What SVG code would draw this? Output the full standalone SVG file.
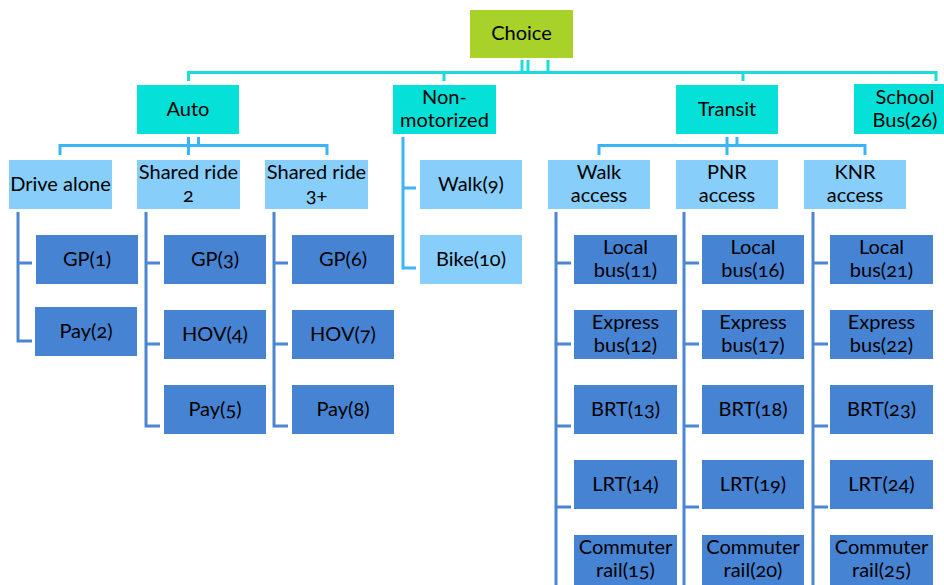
<svg xmlns="http://www.w3.org/2000/svg" width="944" height="585" viewBox="0 0 944 585">
<style>
text{font-family:Lato,"Open Sans","Liberation Sans",sans-serif;font-size:20px;fill:#000;text-anchor:middle;font-variant-numeric:oldstyle-nums}
.root{fill:#a8d12a}
.l1{fill:#05e0d8}
.l2{fill:#87cefa}
.leaf{fill:#4683d3}
.c0{stroke:#1adcdc;stroke-width:3;fill:none}
.c1{stroke:#3cb4f8;stroke-width:3;fill:none}
.c2{stroke:#4a86d2;stroke-width:3;fill:none}
</style>
<rect width="944" height="585" fill="#fff"/>
<g id="connectors">
<path class="c0" d="M522 60V73M528 60V73M548 60V73M187 72.5H937.5M188.5 72V81M444 72V81M743 72V81M936 72V81"/>
<path class="c1" d="M188.5 137V155M198.5 137V146M60 145.5H327.5M60 144V155M327 144V155"/>
<path class="c1" d="M727 137V155M737 137V146M599 145.5H865.5M599 144V155M865 144V155"/>
<path class="c1" d="M403 137V268H416M403 188H416"/>
<path class="c2" d="M18 212V341H32M18 263H32"/>
<path class="c2" d="M146 212V426H160M146 263H160M146 344H160"/>
<path class="c2" d="M274 212V426H288M274 263H288M274 344H288"/>
<path class="c2" d="M556 212V585M556 263H571M556 344H571M556 426H571M556 507H571"/>
<path class="c2" d="M684 212V585M684 263H699M684 344H699M684 426H699M684 507H699"/>
<path class="c2" d="M813 212V585M813 263H828M813 344H828M813 426H828M813 507H828"/>
</g>
<g id="choice"><rect class="root" x="470" y="10" width="103" height="48"/><text x="521.5" y="40">Choice</text></g>
<g id="auto"><rect class="l1" x="137" y="85" width="102" height="49"/><text x="188" y="116">Auto</text></g>
<g id="nonmotorized"><rect class="l1" x="393" y="85" width="103" height="49"/><text x="444.5" y="104">Non-</text><text x="444.5" y="127">motorized</text></g>
<g id="transit"><rect class="l1" x="676" y="85" width="102" height="49"/><text x="727" y="116">Transit</text></g>
<g id="schoolbus"><rect class="l1" x="854" y="84" width="90" height="50"/><text x="905" y="104">School</text><text x="905" y="127">Bus(26)</text></g>

<g id="drivealone"><rect class="l2" x="9" y="160" width="103" height="49"/><text x="60.5" y="191">Drive alone</text></g>
<g id="shared2"><rect class="l2" x="137" y="160" width="103" height="49"/><text x="188.5" y="179">Shared ride</text><text x="188.5" y="202">2</text></g>
<g id="shared3"><rect class="l2" x="265" y="160" width="103" height="49"/><text x="316.5" y="179">Shared ride</text><text x="316.5" y="202">3+</text></g>
<g id="walk9"><rect class="l2" x="420" y="160" width="102" height="49"/><text x="471" y="191">Walk(9)</text></g>
<g id="bike10"><rect class="l2" x="420" y="235" width="102" height="49"/><text x="471" y="266">Bike(10)</text></g>
<g id="walkaccess"><rect class="l2" x="548" y="160" width="102" height="49"/><text x="599" y="179">Walk</text><text x="599" y="202">access</text></g>
<g id="pnraccess"><rect class="l2" x="676" y="160" width="102" height="49"/><text x="727" y="179">PNR</text><text x="727" y="202">access</text></g>
<g id="knraccess"><rect class="l2" x="804" y="160" width="102" height="49"/><text x="855" y="179">KNR</text><text x="855" y="202">access</text></g>

<g id="gp1"><rect class="leaf" x="36" y="235" width="102" height="49"/><text x="87" y="266">GP(1)</text></g>
<g id="pay2"><rect class="leaf" x="35" y="307" width="102" height="49"/><text x="86" y="338">Pay(2)</text></g>
<g id="gp3"><rect class="leaf" x="164" y="235" width="102" height="49"/><text x="215" y="266">GP(3)</text></g>
<g id="hov4"><rect class="leaf" x="164" y="310" width="102" height="49"/><text x="215" y="341">HOV(4)</text></g>
<g id="pay5"><rect class="leaf" x="164" y="385" width="102" height="49"/><text x="215" y="416">Pay(5)</text></g>
<g id="gp6"><rect class="leaf" x="292" y="235" width="102" height="49"/><text x="343" y="266">GP(6)</text></g>
<g id="hov7"><rect class="leaf" x="292" y="310" width="102" height="49"/><text x="343" y="341">HOV(7)</text></g>
<g id="pay8"><rect class="leaf" x="292" y="385" width="102" height="49"/><text x="343" y="416">Pay(8)</text></g>

<g id="localbus11"><rect class="leaf" x="574" y="235" width="103" height="49"/><text x="625.5" y="254">Local</text><text x="625.5" y="277">bus(11)</text></g>
<g id="expressbus12"><rect class="leaf" x="574" y="310" width="103" height="49"/><text x="625.5" y="329">Express</text><text x="625.5" y="352">bus(12)</text></g>
<g id="brt13"><rect class="leaf" x="574" y="385" width="103" height="49"/><text x="625.5" y="416">BRT(13)</text></g>
<g id="lrt14"><rect class="leaf" x="574" y="460" width="103" height="49"/><text x="625.5" y="491">LRT(14)</text></g>
<g id="commuter15"><rect class="leaf" x="574" y="535" width="103" height="50"/><text x="625.5" y="554">Commuter</text><text x="625.5" y="577">rail(15)</text></g>

<g id="localbus16"><rect class="leaf" x="702" y="235" width="102" height="49"/><text x="753" y="254">Local</text><text x="753" y="277">bus(16)</text></g>
<g id="expressbus17"><rect class="leaf" x="702" y="310" width="102" height="49"/><text x="753" y="329">Express</text><text x="753" y="352">bus(17)</text></g>
<g id="brt18"><rect class="leaf" x="702" y="385" width="102" height="49"/><text x="753" y="416">BRT(18)</text></g>
<g id="lrt19"><rect class="leaf" x="702" y="460" width="102" height="49"/><text x="753" y="491">LRT(19)</text></g>
<g id="commuter20"><rect class="leaf" x="702" y="535" width="102" height="50"/><text x="753" y="554">Commuter</text><text x="753" y="577">rail(20)</text></g>

<g id="localbus21"><rect class="leaf" x="830" y="235" width="103" height="49"/><text x="881.5" y="254">Local</text><text x="881.5" y="277">bus(21)</text></g>
<g id="expressbus22"><rect class="leaf" x="830" y="310" width="103" height="49"/><text x="881.5" y="329">Express</text><text x="881.5" y="352">bus(22)</text></g>
<g id="brt23"><rect class="leaf" x="830" y="385" width="103" height="49"/><text x="881.5" y="416">BRT(23)</text></g>
<g id="lrt24"><rect class="leaf" x="830" y="460" width="103" height="49"/><text x="881.5" y="491">LRT(24)</text></g>
<g id="commuter25"><rect class="leaf" x="830" y="535" width="103" height="50"/><text x="881.5" y="554">Commuter</text><text x="881.5" y="577">rail(25)</text></g>
</svg>
